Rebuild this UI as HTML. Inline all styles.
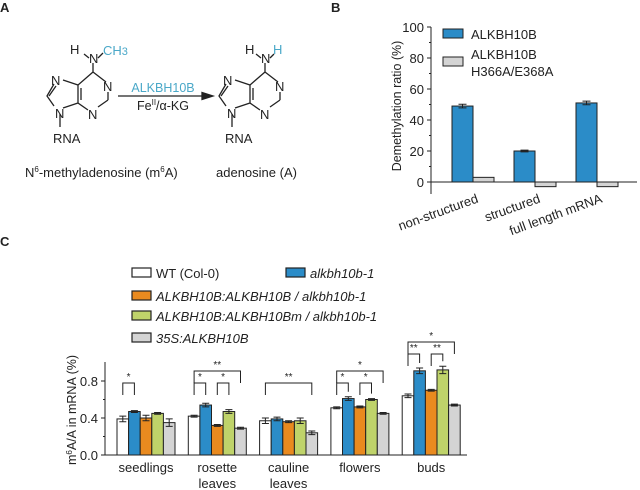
<!DOCTYPE html>
<html><head><meta charset="utf-8"><style>
body{margin:0;background:#fff;font-family:"Liberation Sans",sans-serif;}
svg{display:block}
text{font-family:"Liberation Sans",sans-serif;}
</style></head><body>
<svg id="fig" width="640" height="490" fill="#222">
<g stroke="#222" stroke-width="1.3" fill="none">
 <text x="0" y="12" font-size="13" font-weight="bold" stroke="none" fill="#222">A</text>
 <g>
  <path d="M93,72 L106,82 M108,92 L108,100 M108,100 L98,107 M88,110 L78,103 L78,85 L93,72 M78,103 L63,108 M78,85 L63,80 M54,84 L47,96 L54,106 M93,72 L93,63 M60,114 L60,127 M81,88 L81,100 M49,96 L56,86"/>
  <path d="M84,54 L89,58 M98,58 L103,53"/>
  <g stroke="none" font-size="13"><text x="103" y="91" fill="#222">N</text><text x="88" y="119" fill="#222">N</text><text x="51" y="85" fill="#222">N</text><text x="55" y="118" fill="#222">N</text><text x="89" y="63" fill="#222">N</text><text x="70" y="54" fill="#222">H</text><text x="103" y="55" fill="#4aa8c8">CH<tspan font-size="11">3</tspan></text><text x="53" y="143" fill="#222">RNA</text></g>
 </g>
 <g transform="translate(172,0)">
  <path d="M93,72 L106,82 M108,92 L108,100 M108,100 L98,107 M88,110 L78,103 L78,85 L93,72 M78,103 L63,108 M78,85 L63,80 M54,84 L47,96 L54,106 M93,72 L93,63 M60,114 L60,127 M81,88 L81,100 M49,96 L56,86"/>
  <path d="M84,54 L89,58 M98,58 L102,54"/>
  <g stroke="none" font-size="13"><text x="103" y="91" fill="#222">N</text><text x="88" y="119" fill="#222">N</text><text x="51" y="85" fill="#222">N</text><text x="55" y="118" fill="#222">N</text><text x="89" y="63" fill="#222">N</text><text x="73" y="54" fill="#222">H</text><text x="101" y="54" fill="#4aa8c8">H</text><text x="53" y="143" fill="#222">RNA</text></g>
 </g>
 <path d="M118,96 L206,96"/>
 <path d="M202,92.5 L213,96 L202,99.5 Z" fill="#222"/>
 <text x="163" y="92" font-size="12.5" text-anchor="middle" fill="#4aa8c8" stroke="none">ALKBH10B</text>
 <text x="163" y="110" font-size="12.5" text-anchor="middle" fill="#222" stroke="none">Fe<tspan font-size="8" dy="-5">II</tspan><tspan dy="5">/α-KG</tspan></text>
 <text x="25" y="177" font-size="13" stroke="none" fill="#222">N<tspan font-size="8" dy="-5">6</tspan><tspan dy="5">-methyladenosine (m</tspan><tspan font-size="8" dy="-5">6</tspan><tspan dy="5">A)</tspan></text>
 <text x="216" y="177" font-size="13" stroke="none" fill="#222">adenosine (A)</text>
</g>
<text x="0" y="246" font-size="13" font-weight="bold">C</text>
<text x="331" y="12" font-size="13" font-weight="bold">B</text>
<g id="chartB"></g>
<g id="chartC"></g>
</svg>
<script>
// Panel B data
const bCats = ["non-structured","structured","full length mRNA"];
const bWild = [49,20,51];
const bWildErr = [1.2,0.6,1.2];
const bMut = [3,-3,-3];
const bTicks = [0,20,40,60,80,100];
// Panel C data
const cCats = [["seedlings"],["rosette","leaves"],["cauline","leaves"],["flowers"],["buds"]];
const cWT   = [0.39,0.42,0.37,0.51,0.64];
const cKO   = [0.47,0.54,0.39,0.61,0.91];
const cComp = [0.40,0.32,0.36,0.52,0.70];
const cMut  = [0.45,0.47,0.37,0.60,0.92];
const cOE   = [0.35,0.29,0.24,0.45,0.54];
const cErr  = [[0.03,0.01,0.03,0.01,0.04],[0.01,0.02,0.01,0.02,0.01],[0.03,0.02,0.01,0.03,0.02],[0.01,0.02,0.01,0.01,0.01],[0.02,0.03,0.01,0.04,0.01]];
const cTicks = [0.0,0.4,0.8];
const cSigGroup = [0,1,1,1,2,3,3,3,4,4,4];
const cSigA = [0,0,0,2,0,0,0,2,0,0,2];
const cSigB = [1,4,1,3,4,4,1,3,4,1,3];
const cSigLevel = [0,1,0,0,0,1,0,0,2,1,1];
const cSigLabel = ["*","**","*","*","**","*","*","*","*","**","**"];

const NS="http://www.w3.org/2000/svg";
function mk(parent,tag,attrs,txt){const e=document.createElementNS(NS,tag);for(const k in attrs)e.setAttribute(k,attrs[k]);if(txt!==undefined)e.textContent=txt;parent.appendChild(e);return e;}

// ---- Panel B
(function(){
 const g=document.getElementById('chartB');
 const y=v=>182-v*1.55;
 const x0=452, gap=62, bw=21;
 mk(g,'line',{x1:431,y1:y(100),x2:431,y2:194,stroke:'#222','stroke-width':1});
 mk(g,'line',{x1:431,y1:182,x2:637,y2:182,stroke:'#222','stroke-width':1});
 bTicks.forEach(t=>{
  const tk=mk(g,'line',{x1:427,y1:y(t),x2:431,y2:y(t),stroke:'#222'});
  
  
  const l=mk(g,'text',{x:424,y:y(t)+5,'font-size':13,'text-anchor':'end'},t);
  
  
 });
 for(let t=10;t<100;t+=20) mk(g,'line',{x1:429,y1:y(t),x2:431,y2:y(t),stroke:'#222'});
 const yl=mk(g,'text',{x:0,y:0,'font-size':12.5,'text-anchor':'middle',transform:'translate(401,106) rotate(-90)'},'Demethylation ratio (%)');
 
 
 bCats.forEach((c,i)=>{
  const bx=x0+i*gap;
  const r1=mk(g,'rect',{x:bx,y:Math.min(y(bWild[i]),182),width:bw,height:Math.abs(y(bWild[i])-182),fill:'#2b8cc8',stroke:'#222','stroke-width':1});
  
  
  const r2=mk(g,'rect',{x:bx+bw,y:Math.min(y(bMut[i]),182),width:bw,height:Math.abs(y(bMut[i])-182),fill:'#d4d4d4',stroke:'#222','stroke-width':1});
  
  
  const cx=bx+bw/2,e=bWildErr[i];
  mk(g,'path',{d:`M${cx},${y(bWild[i]+e)} V${y(bWild[i]-e)} M${cx-4},${y(bWild[i]+e)} H${cx+4} M${cx-4},${y(bWild[i]-e)} H${cx+4}`,stroke:'#222',fill:'none'});
  const lb=mk(g,'text',{x:0,y:0,'font-size':13,'text-anchor':'end',transform:`translate(${bx+bw+6},${202}) rotate(-20)`},c);
  
  
 });
 const s1=mk(g,'rect',{x:443,y:29,width:20,height:9,fill:'#2b8cc8',stroke:'#222'});
 
 
 mk(g,'text',{x:471,y:39,'font-size':13},'ALKBH10B');
 const s2=mk(g,'rect',{x:443,y:57,width:20,height:9,fill:'#d4d4d4',stroke:'#222'});
 
 
 mk(g,'text',{x:471,y:59,'font-size':13},'ALKBH10B');
 mk(g,'text',{x:471,y:76,'font-size':13},'H366A/E368A');
})();

// ---- Panel C
(function(){
 const g=document.getElementById('chartC');
 const y=v=>455-v*92.5;
 const gx0=117, gstep=71.3, bw=11.6;
 const series=[cWT,cKO,cComp,cMut,cOE];
 const cols=['#ffffff','#2b8cc8','#e98a1f','#bfd36a','#d4d4d4'];
 const names=['bar-wt','bar-alkbh10b-1','bar-complemented','bar-catalytic-mutant','bar-overexpression'];
 mk(g,'line',{x1:105,y1:362,x2:105,y2:455,stroke:'#222'});
 mk(g,'line',{x1:105,y1:455,x2:467,y2:455,stroke:'#222'});
 cTicks.forEach(t=>{
  mk(g,'line',{x1:101,y1:y(t),x2:105,y2:y(t),stroke:'#222'});
  const l=mk(g,'text',{x:98,y:y(t)+5,'font-size':13,'text-anchor':'end'},t.toFixed(1));
  
  
 });
 [0.2,0.6].forEach(t=>mk(g,'line',{x1:103,y1:y(t),x2:105,y2:y(t),stroke:'#222'}));
 const yl=mk(g,'text',{x:0,y:0,'font-size':12.5,'text-anchor':'middle',transform:'translate(76,410) rotate(-90)'});
 yl.innerHTML='m<tspan font-size="8" dy="-4">6</tspan><tspan dy="4">A/A in mRNA (%)</tspan>';
 
 
 const top=(gi,bi)=>y(series[bi][gi]+cErr[gi][bi]);
 cCats.forEach((c,gi)=>{
  series.forEach((s,bi)=>{
   const bx=gx0+gi*gstep+bi*bw;
   const r=mk(g,'rect',{x:bx,y:y(s[gi]),width:bw,height:455-y(s[gi]),fill:cols[bi],stroke:'#222','stroke-width':1});
   
   
   const cx=bx+bw/2,e=cErr[gi][bi];
   mk(g,'path',{d:`M${cx},${y(s[gi]+e)} V${y(s[gi]-e)} M${cx-3.5},${y(s[gi]+e)} H${cx+3.5} M${cx-3.5},${y(s[gi]-e)} H${cx+3.5}`,stroke:'#222',fill:'none'});
  });
  const cx=gx0+gi*gstep+2.5*bw;
  c.forEach((w,li)=>{
   const l=mk(g,'text',{x:cx,y:472+li*16,'font-size':13,'text-anchor':'middle'},w);
   
   
  });
 });
 cSigLabel.forEach((lab,k)=>{
  const gi=cSigGroup[k],a=cSigA[k],b=cSigB[k];
  let by = [383,371][cSigLevel[k]];
  if(gi===4) by = cSigLevel[k]===2?342:354;
  const xa=gx0+gi*gstep+(a+0.5)*bw, xb=gx0+gi*gstep+(b+0.5)*bw;
  const ya=Math.max(by+6,top(gi,a)-5), yb=Math.max(by+6,top(gi,b)-5);
  const p=mk(g,'path',{d:`M${xa},${Math.min(ya,by+12)} V${by} H${xb} V${Math.min(yb,by+12)}`,stroke:'#222',fill:'none','stroke-width':1});
  
  
  mk(g,'text',{x:(xa+xb)/2,y:by-3,'font-size':10,'text-anchor':'middle'},lab);
 });
 // legend
 const leg=[[132,273,'#ffffff','WT (Col-0)',false],[286,273,'#2b8cc8','alkbh10b-1',true],[132,296,'#e98a1f','ALKBH10B:ALKBH10B / alkbh10b-1',true],[132,316,'#bfd36a','ALKBH10B:ALKBH10Bm / alkbh10b-1',true],[132,338,'#d4d4d4','35S:ALKBH10B',true]];
 leg.forEach(L=>{
  const s=mk(g,'rect',{x:L[0],y:L[1]-5,width:19,height:9,fill:L[2],stroke:'#222','stroke-width':1.2});
  
  
  const t=mk(g,'text',{x:L[0]+24,y:L[1]+5,'font-size':13,'font-style':L[4]?'italic':'normal'},L[3]);
  
  
 });
})();
</script>
</body></html>
